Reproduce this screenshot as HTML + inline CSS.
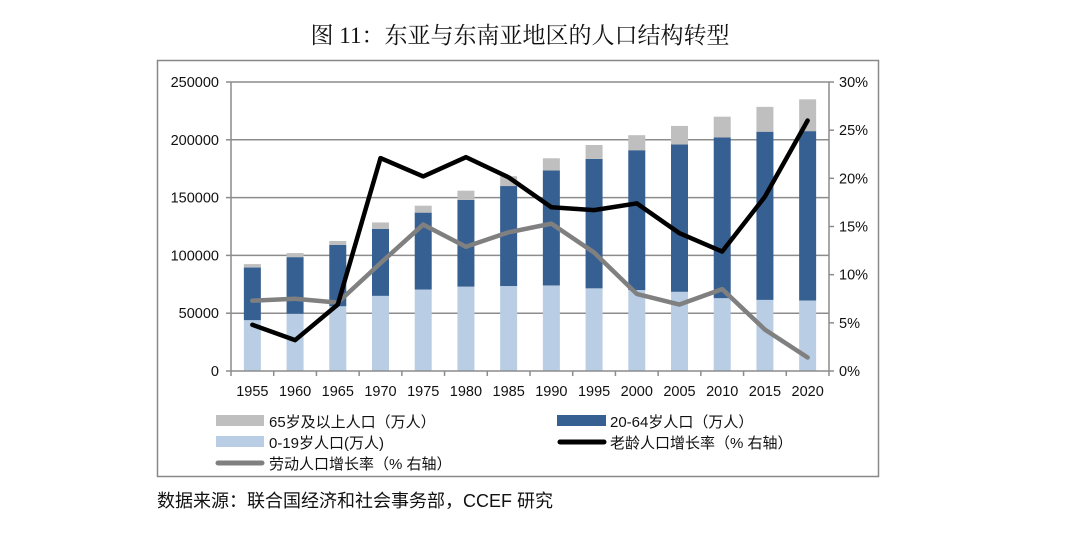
<!DOCTYPE html>
<html><head><meta charset="utf-8">
<style>
html,body{margin:0;padding:0;background:#fff;}
body{width:1080px;height:530px;overflow:hidden;position:relative;font-family:"Liberation Sans","Noto Sans CJK SC",sans-serif;}
svg text{font-family:"Liberation Sans","Noto Sans CJK SC",sans-serif;}
</style></head>
<body>
<svg id="chart" width="1080" height="530" xmlns="http://www.w3.org/2000/svg">
  <text x="520" y="43" text-anchor="middle" font-size="23" style="font-family:'Liberation Serif','Noto Serif CJK SC',serif" fill="#111">图 11：东亚与东南亚地区的人口结构转型</text>
  <rect x="157.5" y="60.5" width="721" height="416" fill="none" stroke="#888" stroke-width="1.5"/>
  <g id="grid"></g><g id="bars"></g><g id="lines"></g><g id="axes"></g>
  <g>
    <rect x="216" y="415" width="48" height="11" fill="#bfbfbf"/>
    <text x="269" y="427" font-size="15" fill="#111">65岁及以上人口（万人）</text>
    <rect x="557" y="415" width="49" height="11" fill="#376092"/>
    <text x="610" y="427" font-size="15" fill="#111">20-64岁人口（万人）</text>
    <rect x="216" y="436" width="48" height="11" fill="#b9cde5"/>
    <text x="269" y="448" font-size="15" fill="#111">0-19岁人口(万人)</text>
    <line x1="560" y1="442" x2="604" y2="442" stroke="#000" stroke-width="5" stroke-linecap="round"/>
    <text x="610" y="448" font-size="15" fill="#111">老龄人口增长率（% 右轴）</text>
    <line x1="218" y1="463" x2="262" y2="463" stroke="#808080" stroke-width="5" stroke-linecap="round"/>
    <text x="269" y="469" font-size="15" fill="#111">劳动人口增长率（% 右轴）</text>
  </g>
  <text x="157" y="507" font-size="18" fill="#111">数据来源：联合国经济和社会事务部，CCEF 研究</text>
</svg>
<script>
const years = ['1955','1960','1965','1970','1975','1980','1985','1990','1995','2000','2005','2010','2015','2020'];
const pop0to19 = [44000,49500,56000,65000,70500,73000,73500,74000,71500,70000,68500,63000,61500,61000];
const pop20to64 = [45500,49000,53000,58000,66500,75000,86500,99500,112000,121000,127500,139000,145500,146500];
const pop65plus = [3000,3500,3500,5500,6000,8000,8500,10500,12000,13000,16000,18000,21500,27500];
const elderlyGrowth = [4.8,3.2,6.9,22.1,20.2,22.2,20.1,17.0,16.7,17.4,14.3,12.4,18.1,26.0];
const laborGrowth = [7.3,7.5,7.1,11.2,15.2,12.9,14.4,15.3,12.3,8.0,6.9,8.5,4.3,1.4];
const leftTicks = [0,50000,100000,150000,200000,250000];
const rightTicks = [0,5,10,15,20,25,30];

const NS='http://www.w3.org/2000/svg';
const X0=231, X1=829, Y0=371, Y1=82;
const band=(X1-X0)/years.length;
const xc=i=>X0+band*(i+0.5);
const yL=v=>Y0-(v/250000)*(Y0-Y1);
const yR=v=>Y0-(v/30)*(Y0-Y1);
function mk(tag,attrs,parent,txt){const e=document.createElementNS(NS,tag);for(const k in attrs)e.setAttribute(k,attrs[k]);if(txt!==undefined)e.textContent=txt;parent.appendChild(e);return e;}
const grid=document.getElementById('grid'),bars=document.getElementById('bars'),lines=document.getElementById('lines'),axes=document.getElementById('axes');

leftTicks.forEach(t=>{
  if(t>0){const g=mk('line',{x1:X0,x2:X1,y1:yL(t),y2:yL(t),stroke:'#8c8c8c','stroke-width':1.5},grid);
  
  }
  const tl=mk('text',{x:X0-12,y:yL(t)+5,'text-anchor':'end','font-size':14.5,fill:'#111'},axes,String(t));
  
  
  const tk=mk('line',{x1:X0-5,x2:X0,y1:yL(t),y2:yL(t),stroke:'#8c8c8c','stroke-width':1.5},axes);
  
  
});
rightTicks.forEach(t=>{
  const tl=mk('text',{x:X1+10,y:yR(t)+5,'font-size':14.5,fill:'#111'},axes,t+'%');
  
  
  const tk=mk('line',{x1:X1,x2:X1+5,y1:yR(t),y2:yR(t),stroke:'#8c8c8c','stroke-width':1.5},axes);
  
  
});
const bw=17;
years.forEach((y,i)=>{
  const a=pop0to19[i],b=a+pop20to64[i],c=b+pop65plus[i];
  const r1=mk('rect',{x:xc(i)-bw/2,y:yL(a),width:bw,height:yL(0)-yL(a),fill:'#b9cde5'},bars);
  
  
  const r2=mk('rect',{x:xc(i)-bw/2,y:yL(b),width:bw,height:yL(a)-yL(b),fill:'#376092'},bars);
  
  
  const r3=mk('rect',{x:xc(i)-bw/2,y:yL(c),width:bw,height:yL(b)-yL(c),fill:'#bfbfbf'},bars);
  
  
  const xl=mk('text',{x:xc(i),y:396,'text-anchor':'middle','font-size':14.5,fill:'#111'},axes,y);
  
  
});
for(let i=0;i<=years.length;i++){
  const tk=mk('line',{x1:X0+band*i,x2:X0+band*i,y1:Y0,y2:Y0+5,stroke:'#8c8c8c','stroke-width':1.5},axes);
  
  
}
const la=mk('line',{x1:X0,x2:X0,y1:Y1,y2:Y0,stroke:'#8c8c8c','stroke-width':1.5},axes);


const ra=mk('line',{x1:X1,x2:X1,y1:Y1,y2:Y0,stroke:'#8c8c8c','stroke-width':1.5},axes);


const xa=mk('line',{x1:X0,x2:X1,y1:Y0,y2:Y0,stroke:'#8c8c8c','stroke-width':1.5},axes);



const lp=mk('polyline',{points:laborGrowth.map((v,i)=>xc(i)+','+yR(v)).join(' '),fill:'none',stroke:'#808080','stroke-width':4.5,'stroke-linejoin':'round','stroke-linecap':'round'},lines);


const ep=mk('polyline',{points:elderlyGrowth.map((v,i)=>xc(i)+','+yR(v)).join(' '),fill:'none',stroke:'#000','stroke-width':4.5,'stroke-linejoin':'round','stroke-linecap':'round'},lines);


</script>
</body></html>
